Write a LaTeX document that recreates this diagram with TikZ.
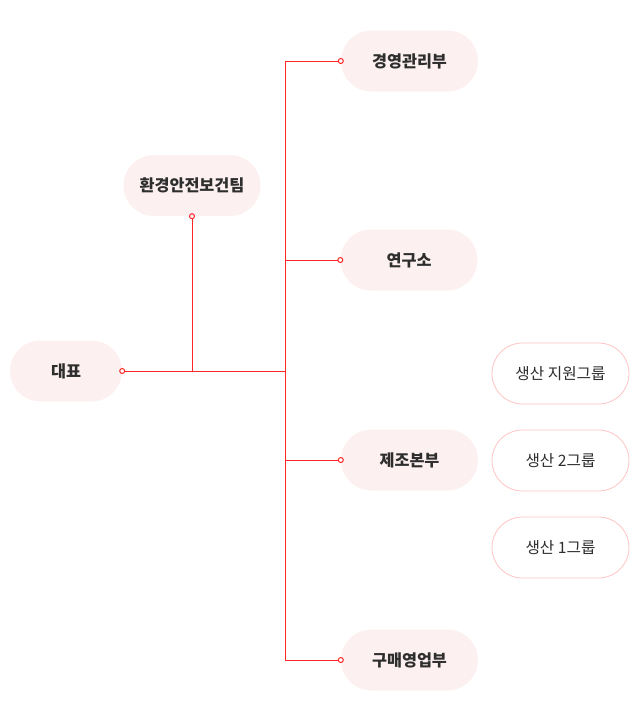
\documentclass[tikz,border=0pt]{standalone}
\usepackage{fontspec}
\newfontfamily\kr{Noto Sans CJK KR}
\definecolor{linered}{HTML}{FF2626}
\definecolor{boxpink}{HTML}{FDF0F0}
\definecolor{edgepink}{HTML}{FFC4C4}
\definecolor{txtgray}{HTML}{2E2E2E}
\tikzset{
  dept/.style={rounded corners=30.5pt, fill=boxpink, minimum width=137pt,
    minimum height=61pt, inner sep=0pt, text=txtgray,
    font=\kr\bfseries\fontsize{16.3}{19}\selectfont},
  grp/.style={rounded corners=30.5pt, draw=edgepink, fill=white, line width=0.8pt,
    minimum width=137pt, minimum height=61pt, inner sep=0pt, text=txtgray,
    font=\kr\fontsize{15.7}{19}\selectfont},
  link/.style={draw=linered, line width=1pt},
  dot/.style={circle, draw=linered, fill=white, line width=1pt, inner sep=0pt,
    minimum size=5pt}
}
\begin{document}
\begin{tikzpicture}[x=1pt,y=-1pt]
	\useasboundingbox (0,0) rectangle (640,721);

	%boxes
	\node[dept, minimum width=112pt] (ceo) at (66,371) {대표};
	\node[dept] (ehs) at (192,185.5) {환경안전보건팀};
	\node[dept] (mgmt) at (409.5,61) {경영관리부};
	\node[dept] (lab) at (409,260) {연구소};
	\node[dept] (mfg) at (409.5,460) {제조본부};
	\node[dept] (buy) at (409.5,660) {구매영업부};

	%production groups
	\node[grp] (sup) at (560.5,373.5) {생산 지원그룹};
	\node[grp] (g2) at (560.5,460.5) {생산 2그룹};
	\node[grp] (g1) at (560.5,547.5) {생산 1그룹};

	%trunk
	\coordinate (trunk) at (285,371);

	%lines
	\draw[link] (ceo.east) -- (trunk);
	\draw[link] (ehs.south) -- (ehs.south |- trunk);
	\draw[link] (mgmt.west) -- (mgmt.west -| trunk) -- (buy.west -| trunk) -- (buy.west);
	\draw[link] (lab.west) -- (lab.west -| trunk);
	\draw[link] (mfg.west) -- (mfg.west -| trunk);

	%dots
	\foreach \n in {mgmt,lab,mfg,buy}
		\node[dot] at (\n.west) {};
	\node[dot] at (ceo.east) {};
	\node[dot] at (ehs.south) {};
\end{tikzpicture}
\end{document}
